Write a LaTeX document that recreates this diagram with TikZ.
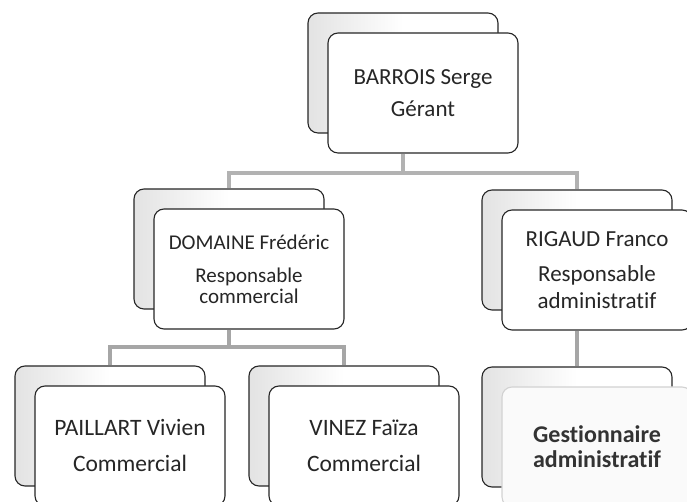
\documentclass[tikz,border=0pt]{standalone}
\usepackage{fontspec}
\setmainfont{Carlito}[Ligatures=NoCommon]
\usetikzlibrary{positioning}

\begin{document}
\begin{tikzpicture}[
    x=1pt, y=1pt,
    back/.style={rectangle, draw=black!85, line width=1.1pt, rounded corners=10pt, minimum width=190pt, minimum height=120pt, left color=gray!22, right color=white, middle color=white},
    front/.style={rectangle, draw=black!85, line width=1.1pt, fill=white, rounded corners=10pt, minimum width=190pt, minimum height=120pt, align=center, text=black!85},
    link/.style={draw=gray!60, line width=4pt}
]
    \useasboundingbox (0,0) rectangle (687,502);

    % Back boxes
    \node [back] (barroisB) at (403,429) {};
    \node [back] (domaineB) at (229,253) {};
    \node [back] (rigaudB) at (577,252) {};
    \node [back] (paillartB) at (110,76) {};
    \node [back] (vinezB) at (344,76) {};
    \node [back] (gestB) at (577,75) {};

    % Front boxes
    \node [front, font=\fontsize{23}{28}\selectfont] (barrois) at ([shift={(20,-20)}]barroisB.center) {BARROIS Serge\\[4pt] Gérant};
    \node [front, font=\fontsize{21}{21}\selectfont] (domaine) at ([shift={(20,-20)}]domaineB.center) {DOMAINE Frédéric\\[12pt] Responsable\\ commercial};
    \node [front, font=\fontsize{23}{27}\selectfont] (rigaud) at ([shift={(20,-20)}]rigaudB.center) {RIGAUD Franco\\[8pt] Responsable\\ administratif};
    \node [front, font=\fontsize{23.5}{28}\selectfont] (paillart) at ([shift={(20,-20)}]paillartB.center) {PAILLART Vivien\\[8pt] Commercial};
    \node [front, font=\fontsize{23.5}{28}\selectfont] (vinez) at ([shift={(20,-20)}]vinezB.center) {VINEZ Faïza\\[8pt] Commercial};
    \node [front, draw=gray!35, fill=gray!4, text=black!80, font=\fontsize{24}{25}\selectfont\bfseries] (gest) at ([shift={(20,-20)}]gestB.center) {Gestionnaire\\ administratif};

    % Links
    \draw [link] (barroisB.center |- barrois.south) -- ++(0,-19) coordinate (fork1) -| (domaineB.north);
    \draw [link] (fork1) -| (rigaudB.north);
    \draw [link, draw=gray!70] (domaineB.center |- domaine.south) -- ++(0,-17) coordinate (fork2) -| (paillartB.north);
    \draw [link, draw=gray!70] (fork2) -| (vinezB.north);
    \draw [link, draw=gray!70] (rigaudB.center |- rigaud.south) -- (gestB.north);

\end{tikzpicture}
\end{document}
